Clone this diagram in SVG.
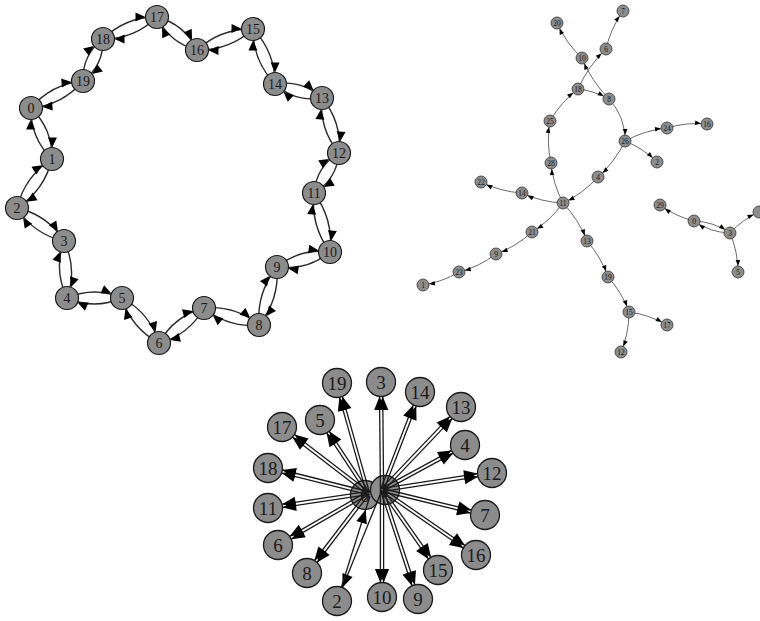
<svg xmlns="http://www.w3.org/2000/svg" width="760" height="621" viewBox="0 0 760 621">
<style>
text{font-family:"Liberation Serif","DejaVu Serif",serif;fill:#1a1a1a;text-anchor:middle;dominant-baseline:central}
.rn circle{fill:#8c8c8c;stroke:#1a1a1a;stroke-width:1.2}
.rn text{font-size:14px}
.tn circle{fill:#8c8c8c;stroke:#333;stroke-width:0.8}
.tn text{font-size:7.5px}
.sn circle{fill:#8c8c8c;stroke:#1a1a1a;stroke-width:1.3}
.sn text{font-size:19px}
#ring-edges path{fill:none;stroke:#2a2a2a;stroke-width:1.4;marker-end:url(#ar)}
#tree-edges path{fill:none;stroke:#444;stroke-width:0.8;marker-end:url(#at)}
#star-edges path{fill:none;stroke:#1a1a1a;stroke-width:1.3;marker-end:url(#as)}
</style>
<defs>
<marker id="ar" markerUnits="userSpaceOnUse" orient="auto" overflow="visible" refX="21.5" refY="0" markerWidth="30" markerHeight="30"><path d="M0,-4.5L10,0L0,4.5z" fill="#000"/></marker>
<marker id="at" markerUnits="userSpaceOnUse" orient="auto" overflow="visible" refX="12" refY="0" markerWidth="20" markerHeight="20"><path d="M0,-2.3L6,0L0,2.3z" fill="#000"/></marker>
<marker id="as" markerUnits="userSpaceOnUse" orient="auto" overflow="visible" refX="28" refY="0" markerWidth="40" markerHeight="40"><path d="M0,-5.5L13.5,0L0,5.5z" fill="#000"/></marker>
</defs>
<rect width="760" height="621" fill="#fff"/>

<!-- Ring graph -->
<g id="ring-edges">
<path d="M31,108 Q52.6,129 52,159"/>
<path d="M52,159 Q30.4,138 31,108"/>
<path d="M52,159 Q44.3,190.5 17,208"/>
<path d="M17,208 Q24.7,176.5 52,159"/>
<path d="M17,208 Q47.4,214.7 64,241"/>
<path d="M64,241 Q33.6,234.3 17,208"/>
<path d="M64,241 Q77.5,268.9 67,298"/>
<path d="M67,298 Q53.5,270.1 64,241"/>
<path d="M67,298 Q94.5,286 122,298"/>
<path d="M122,298 Q94.5,310 67,298"/>
<path d="M122,298 Q149.8,312.9 159,343"/>
<path d="M159,343 Q131.2,328.1 122,298"/>
<path d="M159,343 Q174.1,316 204,308"/>
<path d="M204,308 Q188.9,335 159,343"/>
<path d="M204,308 Q235,305 259,325"/>
<path d="M259,325 Q228,328 204,308"/>
<path d="M259,325 Q256.5,292.4 277,267"/>
<path d="M277,267 Q279.5,299.6 259,325"/>
<path d="M277,267 Q300.2,248 330,252"/>
<path d="M330,252 Q306.8,271 277,267"/>
<path d="M330,252 Q310.4,225.6 314,193"/>
<path d="M314,193 Q333.6,219.4 330,252"/>
<path d="M314,193 Q316.3,166.6 339,153"/>
<path d="M339,153 Q336.7,179.4 314,193"/>
<path d="M339,153 Q319,129 322,98"/>
<path d="M322,98 Q342,122 339,153"/>
<path d="M322,98 Q295.1,102.5 275,84"/>
<path d="M275,84 Q301.9,79.5 322,98"/>
<path d="M275,84 Q252.9,61 253,29"/>
<path d="M253,29 Q275.1,52 275,84"/>
<path d="M253,29 Q229.2,50.7 197,50"/>
<path d="M197,50 Q220.8,28.3 253,29"/>
<path d="M197,50 Q169.4,42.8 157,17"/>
<path d="M157,17 Q184.6,24.2 197,50"/>
<path d="M157,17 Q134.5,39.1 103,39"/>
<path d="M103,39 Q125.5,16.9 157,17"/>
<path d="M103,39 Q103.8,65.2 83,81"/>
<path d="M83,81 Q82.2,54.8 103,39"/>
<path d="M83,81 Q62.5,105.1 31,108"/>
<path d="M31,108 Q51.5,83.9 83,81"/>
</g>
<g id="ring-n0" class="rn"><circle cx="31" cy="108" r="11.5"/><text x="31" y="108">0</text></g>
<g id="ring-n1" class="rn"><circle cx="52" cy="159" r="11.5"/><text x="52" y="159">1</text></g>
<g id="ring-n2" class="rn"><circle cx="17" cy="208" r="11.5"/><text x="17" y="208">2</text></g>
<g id="ring-n3" class="rn"><circle cx="64" cy="241" r="11.5"/><text x="64" y="241">3</text></g>
<g id="ring-n4" class="rn"><circle cx="67" cy="298" r="11.5"/><text x="67" y="298">4</text></g>
<g id="ring-n5" class="rn"><circle cx="122" cy="298" r="11.5"/><text x="122" y="298">5</text></g>
<g id="ring-n6" class="rn"><circle cx="159" cy="343" r="11.5"/><text x="159" y="343">6</text></g>
<g id="ring-n7" class="rn"><circle cx="204" cy="308" r="11.5"/><text x="204" y="308">7</text></g>
<g id="ring-n8" class="rn"><circle cx="259" cy="325" r="11.5"/><text x="259" y="325">8</text></g>
<g id="ring-n9" class="rn"><circle cx="277" cy="267" r="11.5"/><text x="277" y="267">9</text></g>
<g id="ring-n10" class="rn"><circle cx="330" cy="252" r="11.5"/><text x="330" y="252">10</text></g>
<g id="ring-n11" class="rn"><circle cx="314" cy="193" r="11.5"/><text x="314" y="193">11</text></g>
<g id="ring-n12" class="rn"><circle cx="339" cy="153" r="11.5"/><text x="339" y="153">12</text></g>
<g id="ring-n13" class="rn"><circle cx="322" cy="98" r="11.5"/><text x="322" y="98">13</text></g>
<g id="ring-n14" class="rn"><circle cx="275" cy="84" r="11.5"/><text x="275" y="84">14</text></g>
<g id="ring-n15" class="rn"><circle cx="253" cy="29" r="11.5"/><text x="253" y="29">15</text></g>
<g id="ring-n16" class="rn"><circle cx="197" cy="50" r="11.5"/><text x="197" y="50">16</text></g>
<g id="ring-n17" class="rn"><circle cx="157" cy="17" r="11.5"/><text x="157" y="17">17</text></g>
<g id="ring-n18" class="rn"><circle cx="103" cy="39" r="11.5"/><text x="103" y="39">18</text></g>
<g id="ring-n19" class="rn"><circle cx="83" cy="81" r="11.5"/><text x="83" y="81">19</text></g>

<!-- Tree graph -->
<g id="tree-edges">
<path d="M582,58 Q566,43 557,23"/>
<path d="M609,99 Q591.4,81.2 582,58"/>
<path d="M578,89 Q588,66.2 606,49"/>
<path d="M578,89 Q594.5,90.9 609,99"/>
<path d="M606,49 Q610.7,28.3 623,11"/>
<path d="M550,121 Q560.8,102.2 578,89"/>
<path d="M551,163 Q546.3,142.1 550,121"/>
<path d="M563,203 Q553,184.2 551,163"/>
<path d="M609,99 Q625.4,116.8 625,141"/>
<path d="M625,141 Q644.7,130.3 667,128"/>
<path d="M667,128 Q686.6,122 707,124"/>
<path d="M625,141 Q643.1,148.3 657,162"/>
<path d="M625,141 Q615.1,161.7 598,177"/>
<path d="M598,177 Q583.1,193.5 563,203"/>
<path d="M563,203 Q541.5,202.1 522,193"/>
<path d="M522,193 Q500.4,191.6 481,182"/>
<path d="M563,203 Q550.4,220.6 532,232"/>
<path d="M532,232 Q516.2,246.6 496,254"/>
<path d="M496,254 Q479.3,266.7 459,272"/>
<path d="M459,272 Q442.3,282.1 423,285"/>
<path d="M563,203 Q578.8,219.6 587,241"/>
<path d="M587,241 Q601.1,256.9 608,277"/>
<path d="M608,277 Q622,292.4 629,312"/>
<path d="M629,312 Q649.3,314.7 667,325"/>
<path d="M629,312 Q629,332.8 621,352"/>
<path d="M694,221 Q675.4,216.4 660,205"/>
<path d="M694,221 Q713.8,221.6 730,233"/>
<path d="M730,233 Q710.2,232.4 694,221"/>
<path d="M730,233 Q737.9,251.7 738,272"/>
<path d="M730,233 Q742.4,219.6 759,212"/>
</g>
<g id="tree-n20" class="tn"><circle cx="557" cy="23" r="6"/><text x="557" y="23">20</text></g>
<g id="tree-n10" class="tn"><circle cx="582" cy="58" r="6"/><text x="582" y="58">10</text></g>
<g id="tree-n18" class="tn"><circle cx="578" cy="89" r="6"/><text x="578" y="89">18</text></g>
<g id="tree-n25" class="tn"><circle cx="550" cy="121" r="6"/><text x="550" y="121">25</text></g>
<g id="tree-n7" class="tn"><circle cx="623" cy="11" r="6"/><text x="623" y="11">7</text></g>
<g id="tree-n6" class="tn"><circle cx="606" cy="49" r="6"/><text x="606" y="49">6</text></g>
<g id="tree-n8" class="tn"><circle cx="609" cy="99" r="6"/><text x="609" y="99">8</text></g>
<g id="tree-n26" class="tn"><circle cx="625" cy="141" r="6"/><text x="625" y="141">26</text></g>
<g id="tree-n24" class="tn"><circle cx="667" cy="128" r="6"/><text x="667" y="128">24</text></g>
<g id="tree-n16" class="tn"><circle cx="707" cy="124" r="6"/><text x="707" y="124">16</text></g>
<g id="tree-n2" class="tn"><circle cx="657" cy="162" r="6"/><text x="657" y="162">2</text></g>
<g id="tree-n4" class="tn"><circle cx="598" cy="177" r="6"/><text x="598" y="177">4</text></g>
<g id="tree-n28" class="tn"><circle cx="551" cy="163" r="6"/><text x="551" y="163">28</text></g>
<g id="tree-n22" class="tn"><circle cx="481" cy="182" r="6"/><text x="481" y="182">22</text></g>
<g id="tree-n14" class="tn"><circle cx="522" cy="193" r="6"/><text x="522" y="193">14</text></g>
<g id="tree-n11" class="tn"><circle cx="563" cy="203" r="6"/><text x="563" y="203">11</text></g>
<g id="tree-n21" class="tn"><circle cx="532" cy="232" r="6"/><text x="532" y="232">21</text></g>
<g id="tree-n9" class="tn"><circle cx="496" cy="254" r="6"/><text x="496" y="254">9</text></g>
<g id="tree-n23" class="tn"><circle cx="459" cy="272" r="6"/><text x="459" y="272">23</text></g>
<g id="tree-n1" class="tn"><circle cx="423" cy="285" r="6"/><text x="423" y="285">1</text></g>
<g id="tree-n13" class="tn"><circle cx="587" cy="241" r="6"/><text x="587" y="241">13</text></g>
<g id="tree-n19" class="tn"><circle cx="608" cy="277" r="6"/><text x="608" y="277">19</text></g>
<g id="tree-n15" class="tn"><circle cx="629" cy="312" r="6"/><text x="629" y="312">15</text></g>
<g id="tree-n17" class="tn"><circle cx="667" cy="325" r="6"/><text x="667" y="325">17</text></g>
<g id="tree-n12" class="tn"><circle cx="621" cy="352" r="6"/><text x="621" y="352">12</text></g>
<g id="tree-n29" class="tn"><circle cx="660" cy="205" r="6"/><text x="660" y="205">29</text></g>
<g id="tree-n0" class="tn"><circle cx="694" cy="221" r="6"/><text x="694" y="221">0</text></g>
<g id="tree-n3" class="tn"><circle cx="730" cy="233" r="6"/><text x="730" y="233">3</text></g>
<g id="tree-n5" class="tn"><circle cx="738" cy="272" r="6"/><text x="738" y="272">5</text></g>
<g id="tree-n27" class="tn"><circle cx="759" cy="212" r="6"/></g>

<!-- Star graph -->
<g id="star-n0" class="sn"><circle cx="365" cy="495" r="14.5"/><text x="365" y="495">0</text></g>
<g id="star-n1" class="sn"><circle cx="385" cy="490" r="14.5"/><text x="385" y="490">1</text></g>
<g id="star-edges">
<path d="M369.5,492.6 L338.5,382.6"/><path d="M366.5,493.4 L335.5,383.4"/>
<path d="M380.4,490 L379.4,382"/><path d="M383.6,490 L382.6,382"/>
<path d="M380.5,489.4 L418.5,391.4"/><path d="M383.5,490.6 L421.5,392.6"/>
<path d="M380.8,488.9 L459.8,405.9"/><path d="M383.2,491.1 L462.2,408.1"/>
<path d="M366.7,493.9 L318.7,420.9"/><path d="M369.3,492.1 L321.3,419.1"/>
<path d="M367,494.3 L281,428.3"/><path d="M369,491.7 L283,425.7"/>
<path d="M381.2,488.6 L464.2,443.6"/><path d="M382.8,491.4 L465.8,446.4"/>
<path d="M367.6,494.6 L267.6,469.6"/><path d="M368.4,491.5 L268.4,466.5"/>
<path d="M381.8,488.4 L491.8,471.4"/><path d="M382.2,491.6 L492.2,474.6"/>
<path d="M368.2,494.6 L268.2,509.6"/><path d="M367.8,491.4 L267.8,506.4"/>
<path d="M382.4,488.5 L485.4,513.5"/><path d="M381.6,491.5 L484.6,516.5"/>
<path d="M368.8,494.4 L278.8,546.4"/><path d="M367.2,491.6 L277.2,543.6"/>
<path d="M382.9,488.7 L476.9,553.7"/><path d="M381.1,491.3 L475.1,556.3"/>
<path d="M383.3,489.1 L439.3,569.1"/><path d="M380.7,490.9 L436.7,570.9"/>
<path d="M369.3,494 L308.3,574"/><path d="M366.7,492 L305.7,572"/>
<path d="M383.6,490 L383.6,597"/><path d="M380.4,490 L380.4,597"/>
<path d="M383.5,489.5 L419.5,598.5"/><path d="M380.5,490.5 L416.5,599.5"/>
<path d="M382,490 L337,601"/><path d="M337,601 L370,496"/>
</g>
<g id="star-n19" class="sn"><circle cx="337" cy="383" r="14.5"/><text x="337" y="383">19</text></g>
<g id="star-n3" class="sn"><circle cx="381" cy="382" r="14.5"/><text x="381" y="382">3</text></g>
<g id="star-n14" class="sn"><circle cx="420" cy="392" r="14.5"/><text x="420" y="392">14</text></g>
<g id="star-n13" class="sn"><circle cx="461" cy="407" r="14.5"/><text x="461" y="407">13</text></g>
<g id="star-n5" class="sn"><circle cx="320" cy="420" r="14.5"/><text x="320" y="420">5</text></g>
<g id="star-n17" class="sn"><circle cx="282" cy="427" r="14.5"/><text x="282" y="427">17</text></g>
<g id="star-n4" class="sn"><circle cx="465" cy="445" r="14.5"/><text x="465" y="445">4</text></g>
<g id="star-n18" class="sn"><circle cx="268" cy="468" r="14.5"/><text x="268" y="468">18</text></g>
<g id="star-n12" class="sn"><circle cx="492" cy="473" r="14.5"/><text x="492" y="473">12</text></g>
<g id="star-n11" class="sn"><circle cx="268" cy="508" r="14.5"/><text x="268" y="508">11</text></g>
<g id="star-n7" class="sn"><circle cx="485" cy="515" r="14.5"/><text x="485" y="515">7</text></g>
<g id="star-n6" class="sn"><circle cx="278" cy="545" r="14.5"/><text x="278" y="545">6</text></g>
<g id="star-n16" class="sn"><circle cx="476" cy="555" r="14.5"/><text x="476" y="555">16</text></g>
<g id="star-n15" class="sn"><circle cx="438" cy="570" r="14.5"/><text x="438" y="570">15</text></g>
<g id="star-n8" class="sn"><circle cx="307" cy="573" r="14.5"/><text x="307" y="573">8</text></g>
<g id="star-n10" class="sn"><circle cx="382" cy="597" r="14.5"/><text x="382" y="597">10</text></g>
<g id="star-n9" class="sn"><circle cx="418" cy="599" r="14.5"/><text x="418" y="599">9</text></g>
<g id="star-n2" class="sn"><circle cx="337" cy="601" r="14.5"/><text x="337" y="601">2</text></g>
</svg>
